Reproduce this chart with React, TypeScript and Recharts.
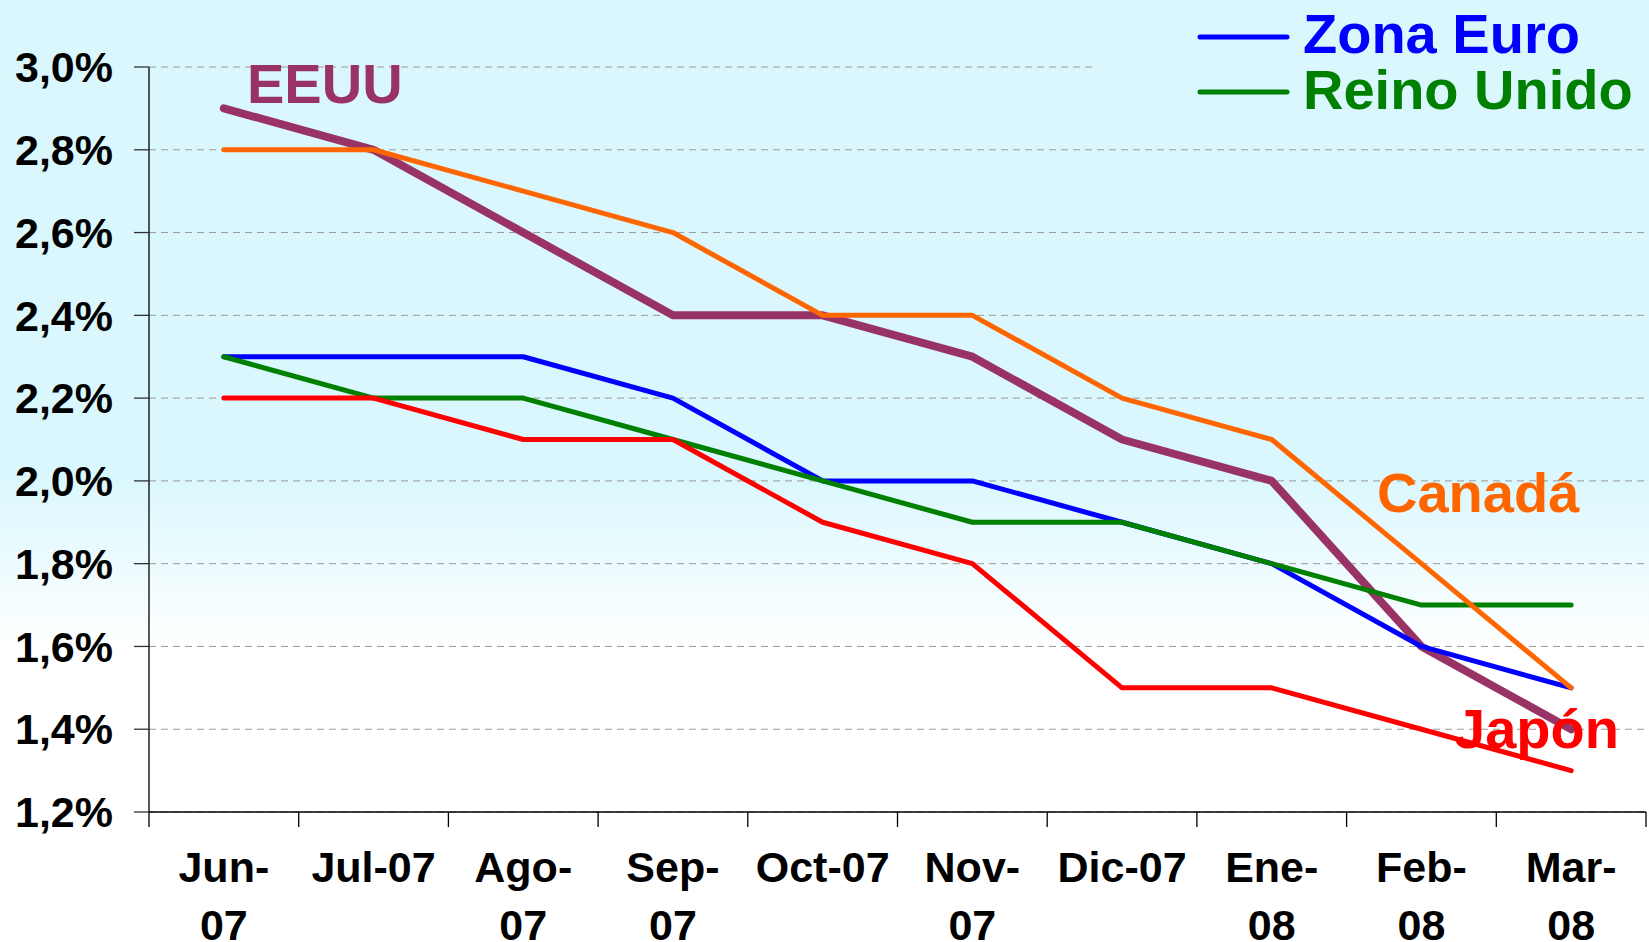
import React from 'react';
import { LineChart, Line, XAxis, YAxis, CartesianGrid } from 'recharts';

const categories = ['Jun-07', 'Jul-07', 'Ago-07', 'Sep-07', 'Oct-07', 'Nov-07', 'Dic-07', 'Ene-08', 'Feb-08', 'Mar-08'];
const xTickLines = [
  ['Jun-', '07'],
  ['Jul-07'],
  ['Ago-', '07'],
  ['Sep-', '07'],
  ['Oct-07'],
  ['Nov-', '07'],
  ['Dic-07'],
  ['Ene-', '08'],
  ['Feb-', '08'],
  ['Mar-', '08'],
];

const eeuu = [2.9, 2.8, 2.6, 2.4, 2.4, 2.3, 2.1, 2.0, 1.6, 1.4];
const canada = [2.8, 2.8, 2.7, 2.6, 2.4, 2.4, 2.2, 2.1, 1.8, 1.5];
const zonaEuro = [2.3, 2.3, 2.3, 2.2, 2.0, 2.0, 1.9, 1.8, 1.6, 1.5];
const reinoUnido = [2.3, 2.2, 2.2, 2.1, 2.0, 1.9, 1.9, 1.8, 1.7, 1.7];
const japon = [2.2, 2.2, 2.1, 2.1, 1.9, 1.8, 1.5, 1.5, 1.4, 1.3];

const yTicks = [1.2, 1.4, 1.6, 1.8, 2.0, 2.2, 2.4, 2.6, 2.8, 3.0];

const FONT = '"Liberation Sans", Arial, Helvetica, sans-serif';
const BG = '#d9f7fd';

const data = categories.map((cat, i) => ({
  idx: i,
  cat,
  eeuu: eeuu[i],
  canada: canada[i],
  zonaEuro: zonaEuro[i],
  reinoUnido: reinoUnido[i],
  japon: japon[i],
}));

// ticks at category edges (x.5) draw the tick marks, ticks at integers draw the labels
const xTicks = categories.flatMap((_, i) => [i - 0.5, i]).concat(categories.length - 0.5);

function XTick(props: any) {
  const { x, y, payload } = props;
  const v = payload.value;
  if (!Number.isInteger(v)) {
    return <line x1={x} x2={x} y1={y} y2={y + 15} stroke="#000" strokeWidth={1.3} />;
  }
  const lines = xTickLines[v] || [];
  return (
    <text textAnchor="middle" fill="#000" fontSize={43} fontWeight="bold" fontFamily={FONT}>
      {lines.map((l, k) => (
        <tspan key={k} x={x} y={y + 70 + k * 58}>
          {l}
        </tspan>
      ))}
    </text>
  );
}

const fmtPct = (v: number) => v.toFixed(1).replace('.', ',') + '%';

const lineStyle = { strokeLinecap: 'round' as const, strokeLinejoin: 'round' as const };

export default function App() {
  return (
    <div
      style={{
        position: 'absolute',
        left: 0,
        top: 0,
        width: 1649,
        height: 942,
        overflow: 'hidden',
        background: `linear-gradient(to bottom, ${BG} 0%, ${BG} 50%, #ffffff 69%, #ffffff 100%)`,
      }}
    >
      <LineChart width={1649} height={942} data={data} margin={{ top: 67, right: 3, bottom: 0, left: 0 }}>
        <CartesianGrid vertical={false} stroke="#999" strokeDasharray="7 5" />
        <XAxis
          dataKey="idx"
          type="number"
          domain={[-0.5, 9.5]}
          ticks={xTicks}
          interval={0}
          height={130}
          tickSize={0}
          tickMargin={0}
          tickLine={false}
          axisLine={{ stroke: '#000', strokeWidth: 1.3 }}
          tick={<XTick />}
        />
        <YAxis
          type="number"
          domain={[1.2, 3.0]}
          ticks={yTicks}
          interval={0}
          width={149}
          tickSize={15}
          tickMargin={21}
          tickFormatter={fmtPct}
          axisLine={{ stroke: '#000', strokeWidth: 1.3 }}
          tickLine={{ stroke: '#333', strokeWidth: 1.3 }}
          tick={{ fill: '#000', fontSize: 43, fontWeight: 'bold', fontFamily: FONT }}
        />
        <Line type="linear" dataKey="eeuu" name="EEUU" stroke="#993366" strokeWidth={8} dot={false} isAnimationActive={false} {...lineStyle} />
        <Line type="linear" dataKey="zonaEuro" name="Zona Euro" stroke="#0000ff" strokeWidth={5} dot={false} isAnimationActive={false} {...lineStyle} />
        <Line type="linear" dataKey="reinoUnido" name="Reino Unido" stroke="#008000" strokeWidth={5} dot={false} isAnimationActive={false} {...lineStyle} />
        <Line type="linear" dataKey="canada" name="Canadá" stroke="#ff6600" strokeWidth={5} dot={false} isAnimationActive={false} {...lineStyle} />
        <Line type="linear" dataKey="japon" name="Japón" stroke="#ff0000" strokeWidth={5} dot={false} isAnimationActive={false} {...lineStyle} />
      </LineChart>
      <svg
        width={1649}
        height={942}
        style={{ position: 'absolute', left: 0, top: 0, pointerEvents: 'none' }}
        fontFamily={FONT}
        fontWeight="bold"
        fontSize={56}
      >
        <rect x={1094} y={0} width={555} height={118} fill={BG} />
        <line x1={1200} x2={1287} y1={37} y2={37} stroke="#0000ff" strokeWidth={5} strokeLinecap="round" />
        <text x={1303} y={53} fill="#0000ff">Zona Euro</text>
        <line x1={1200} x2={1287} y1={92} y2={92} stroke="#008000" strokeWidth={5} strokeLinecap="round" />
        <text x={1303} y={109} fill="#008000">Reino Unido</text>
        <text x={247} y={103} fill="#993366">EEUU</text>
        <text x={1377} y={512} fill="#ff6600">Canadá</text>
        <text x={1454} y={748} fill="#ff0000">Japón</text>
      </svg>
    </div>
  );
}
